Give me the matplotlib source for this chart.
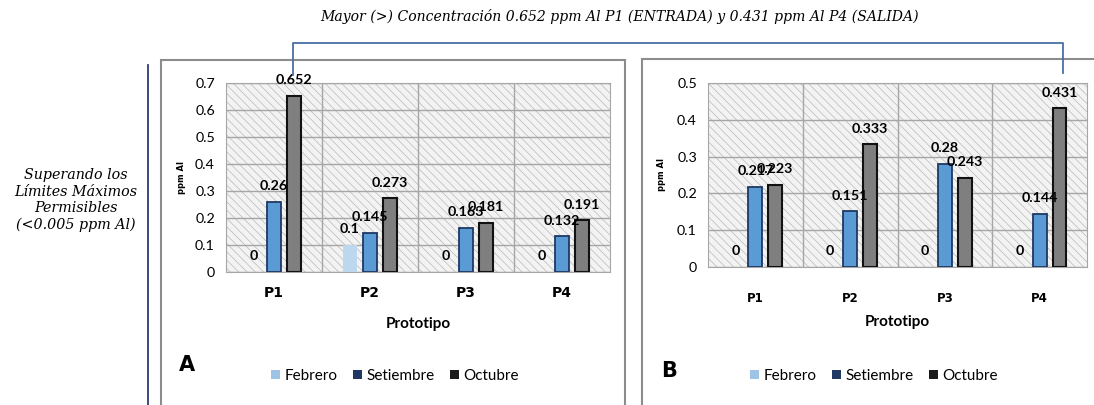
#!/usr/bin/env python3
"""Aluminium concentration (ppm Al) per prototype, panels A and B."""
import matplotlib

matplotlib.use("Agg")

import matplotlib.pyplot as plt
import numpy as np
from matplotlib.lines import Line2D
from matplotlib.patches import Patch, Rectangle

W, H = 1094, 405

categories = ["P1", "P2", "P3", "P4"]
series = ["Febrero", "Setiembre", "Octubre"]

a_febrero = [0, 0.1, 0, 0]
a_setiembre = [0.26, 0.145, 0.163, 0.132]
a_octubre = [0.652, 0.273, 0.181, 0.191]

b_febrero = [0, 0, 0, 0]
b_setiembre = [0.217, 0.151, 0.28, 0.144]
b_octubre = [0.223, 0.333, 0.243, 0.431]

title_text = "Mayor (>) Concentración 0.652 ppm Al P1 (ENTRADA) y 0.431 ppm Al P4 (SALIDA)"
side_text = "Superando los\nLímites Máximos\nPermisibles\n(<0.005 ppm Al)"

FACE = ["#bdd7ee", "#5b9bd5", "#7f7f7f"]
EDGE = ["#bdd7ee", "#1f3864", "#111111"]
EDGE_LW = [0, 1.3, 1.5]
LEG = ["#9dc3e6", "#1f3864", "#1a1a1a"]

NARROW = ["Lato", "DejaVu Sans"]
SERIF = ["DejaVu Serif"]

plt.rcParams["hatch.linewidth"] = 0.5


def fx(x):
    return x / W


def fy(y):
    return 1 - y / H


def panel(fig, box, ymax, yticks, data, tick_pad, ylabel_x, pfont):
    l, t, r, b = box
    ax = fig.add_axes([fx(l), fy(b), fx(r) - fx(l), (b - t) / H])
    ax.set_facecolor("#f3f3f3")
    ax.add_patch(Rectangle((0, 0), 1, 1, transform=ax.transAxes, fill=False,
                           hatch="\\\\\\\\", edgecolor="#b9b9b9", lw=0, zorder=0))
    x = np.arange(len(categories))
    off = 0.21
    wid = 0.146
    for k, vals in enumerate(data):
        pos = x + (k - 1) * off
        ax.bar(pos, vals, width=wid, color=FACE[k], edgecolor=EDGE[k],
               linewidth=EDGE_LW[k], zorder=3)
        for xp, v in zip(pos, vals):
            ax.annotate(f"{v:g}", (xp, v), xytext=(0, 7), textcoords="offset points",
                        ha="center", va="bottom", fontsize=10.3, fontweight="bold",
                        family=NARROW, zorder=4)
    ax.set_xlim(-0.5, len(categories) - 0.5)
    ax.set_ylim(0, ymax)
    ax.set_yticks(yticks)
    ax.set_yticklabels([f"{v:g}" for v in yticks], fontsize=10.3, family=NARROW)
    ax.set_xticks(x)
    ax.set_xticklabels(categories, fontsize=pfont, fontweight="bold")
    ax.set_xticks(np.arange(0.5, len(categories) - 1, 1.0), minor=True)
    ax.tick_params(axis="x", which="both", length=0, pad=tick_pad)
    ax.tick_params(axis="y", length=0, pad=8)
    ax.grid(True, axis="y", color="#a6a6a6", lw=1.0, zorder=1)
    ax.grid(True, axis="x", which="minor", color="#a6a6a6", lw=1.0, zorder=1)
    ax.grid(False, axis="x", which="major")
    for s in ax.spines.values():
        s.set_color("#a6a6a6")
    ax.set_axisbelow(True)
    fig.text(fx(ylabel_x), fy((t + b) / 2), "ppm Al", rotation=90, ha="center",
             va="center", fontsize=6, fontweight="bold")
    return ax


fig = plt.figure(figsize=(W / 100, H / 100), dpi=100)

# panel frames
fig.add_artist(Rectangle((fx(161), fy(420)), fx(625) - fx(161), fy(60) - fy(420),
                         transform=fig.transFigure, fill=False, ec="#8c8c8c", lw=1.5))
fig.add_artist(Rectangle((fx(642), fy(420)), fx(1110) - fx(642), fy(59) - fy(420),
                         transform=fig.transFigure, fill=False, ec="#8c8c8c", lw=1.5))

panel(fig, (226, 83, 610, 272), 0.7, np.round(np.arange(0, 0.71, 0.1), 1),
      [a_febrero, a_setiembre, a_octubre], 10, 182, 10)
panel(fig, (708, 83, 1087, 267), 0.5, np.round(np.arange(0, 0.51, 0.1), 1),
      [b_febrero, b_setiembre, b_octubre], 18, 662, 8.5)

for cx, cy in [(418, 324), (897, 322)]:
    fig.text(fx(cx), fy(cy), "Prototipo", ha="center", va="center",
             fontsize=11, fontweight="bold", family=NARROW)

handles = [Patch(facecolor=c, edgecolor="none", label=s) for c, s in zip(LEG, series)]
for cx in (395, 874):
    fig.legend(handles=handles, loc="center", bbox_to_anchor=(fx(cx), fy(376)),
               ncol=3, frameon=False, handlelength=0.6,
               handleheight=0.6, handletextpad=0.3, columnspacing=1.0,
               prop={"family": NARROW, "size": 11})

fig.text(fx(187), fy(365), "A", ha="center", va="center", fontsize=15, fontweight="bold")
fig.text(fx(669), fy(371), "B", ha="center", va="center", fontsize=15, fontweight="bold")

fig.text(fx(620), fy(16), title_text, ha="center", va="center", fontsize=10.1,
         style="italic", family=SERIF)
fig.text(fx(76), fy(200), side_text, ha="center", va="center", fontsize=10.3,
         style="italic", family=SERIF, linespacing=1.2)

# connector and side line
blue = "#4a6fa5"
fig.add_artist(Line2D([fx(293), fx(293), fx(1063), fx(1063)],
                      [fy(75), fy(43), fy(43), fy(73)],
                      transform=fig.transFigure, color=blue, lw=1.3))
fig.add_artist(Line2D([fx(148), fx(148)], [fy(65), fy(405)],
                      transform=fig.transFigure, color="#2f3d6e", lw=1.3))

fig.savefig("out.png", dpi=100)
